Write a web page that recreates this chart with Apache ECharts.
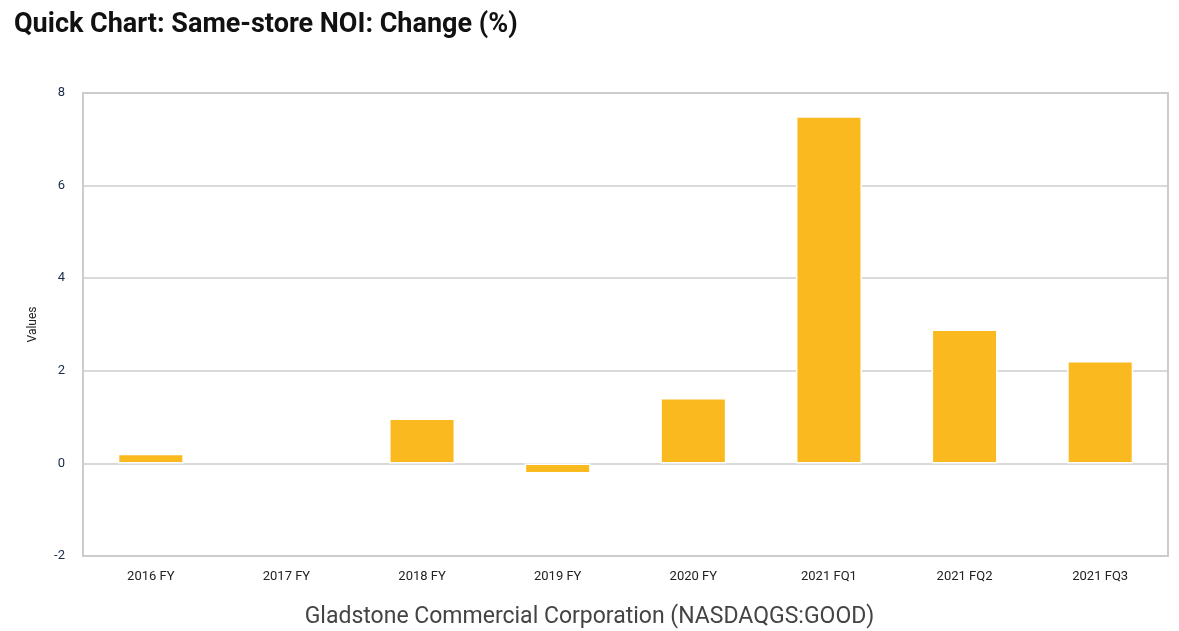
<!DOCTYPE html>
<html>
<head>
<meta charset="utf-8">
<script src="https://cdn.jsdelivr.net/npm/echarts@6/dist/echarts.min.js"></script>
<style>
html,body{margin:0;padding:0;background:#fff;}
#c{width:1179px;height:631px;}
</style>
</head>
<body>
<div id="c"></div>
<script>
const categories = ['2016 FY','2017 FY','2018 FY','2019 FY','2020 FY','2021 FQ1','2021 FQ2','2021 FQ3'];
const values = [0.21, null, 0.97, -0.22, 1.41, 7.5, 2.89, 2.21];
const yTicks = { min: -2, max: 8, interval: 2 };
const titleText = 'Quick Chart: Same-store NOI: Change (%)';
const subtitleText = 'Gladstone Commercial Corporation (NASDAQGS:GOOD)';
const yAxisName = 'Values';

const chart = echarts.init(document.getElementById('c'));
chart.setOption({
  animation: false,
  backgroundColor: '#ffffff',
  title: [
    { text: titleText, left: 9, top: 7,
      textStyle: { fontFamily: 'Roboto', fontWeight: 'bold', fontSize: 27, color: '#111' } },
    { text: subtitleText, left: 'center', top: 601,
      textStyle: { fontFamily: 'Roboto', fontWeight: 'normal', fontSize: 23, color: '#444' } }
  ],
  grid: { left: 83, right: 11, top: 93, bottom: 75, show: true, borderColor: '#cccccc', borderWidth: 2, backgroundColor: 'transparent' },
  xAxis: {
    type: 'category',
    data: categories,
    axisLine: { show: false },
    axisTick: { show: false },
    axisLabel: { fontFamily: 'Roboto', fontSize: 13, color: '#222', margin: 14 }
  },
  yAxis: {
    type: 'value',
    min: yTicks.min, max: yTicks.max, interval: yTicks.interval,
    name: yAxisName,
    nameLocation: 'middle',
    nameGap: 44,
    nameTextStyle: { fontFamily: 'Roboto', fontSize: 12, color: '#222' },
    axisLine: { show: false },
    axisTick: { show: false },
    axisLabel: { fontFamily: 'Roboto', fontSize: 13, color: '#1a2a4a', margin: 18 },
    splitLine: { show: true, lineStyle: { color: '#cccccc', width: 1.5 } }
  },
  series: [{
    type: 'bar',
    data: values,
    barWidth: 66,
    itemStyle: { color: '#FAB91E', borderColor: '#ffffff', borderWidth: 1.5 }
  }]
});
</script>
</body>
</html>
